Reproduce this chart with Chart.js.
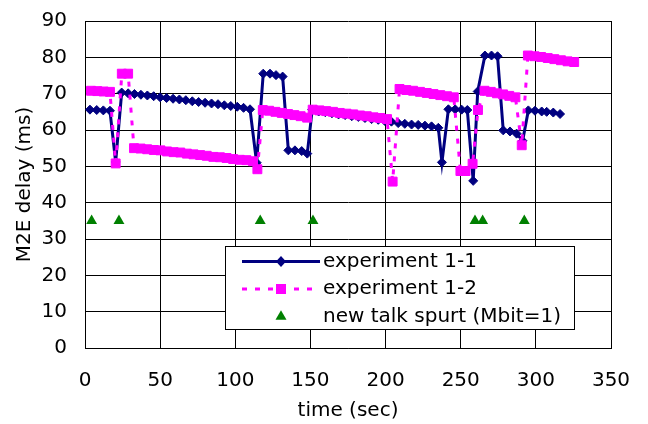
<!DOCTYPE html>
<html>
<head>
<meta charset="utf-8">
<script src="https://cdn.jsdelivr.net/npm/chart.js@4/dist/chart.umd.min.js"></script>
<style>
html,body{margin:0;padding:0;background:#fff;}
#wrap{width:648px;height:424px;position:relative;}
</style>
</head>
<body>
<div id="wrap"><canvas id="c" width="648" height="424"></canvas></div>
<script>
// ---- data ----
const seriesNames = ["experiment 1-1", "experiment 1-2", "new talk spurt (Mbit=1)"];

const exp11Time = [3.3, 7.8, 12.2, 16.6, 20.4,
  24.4, 28.7, 32.9, 37.2, 41.5, 45.7, 50.0, 54.3, 58.6, 62.8, 67.1, 71.4, 75.6, 79.9, 84.2, 88.5, 92.7, 97.0, 101.3, 105.5, 109.8,
  114.2, 118.6, 123.1, 127.1, 131.5, 135.3, 139.7, 144.2, 147.9,
  151.2, 155.5, 159.9, 164.3, 168.7, 173.1, 177.5, 181.9, 186.3, 190.7, 195.1, 199.5, 203.9,
  208.4, 212.8, 217.3, 221.7, 226.2, 230.6, 235.1, 237.5,
  241.8, 246.3, 250.6, 254.4, 258.3, 261.3, 266.1, 270.5, 274.5,
  278.3, 282.8, 287.2, 291.2, 295.0, 299.4, 303.9, 307.2, 311.6, 316.1];
const exp11Delay = [65.6, 65.5, 65.4, 65.3, 51.2,
  70.3, 70.1, 69.9, 69.7, 69.5, 69.3, 69.0, 68.8, 68.6, 68.4, 68.2, 67.9, 67.7, 67.5, 67.3, 67.1, 66.8, 66.6, 66.4, 66.1, 65.7,
  51.0, 75.5, 75.5, 75.1, 74.7, 54.4, 54.4, 54.2, 53.5,
  65.6, 65.1, 64.9, 64.6, 64.3, 64.1, 63.8, 63.6, 63.3, 63.0, 62.8, 62.5, 62.3,
  61.9, 61.7, 61.5, 61.4, 61.2, 61.0, 60.6, 51.1,
  65.7, 65.7, 65.6, 65.5, 46.0, 70.6, 80.5, 80.5, 80.3,
  59.9, 59.6, 59.0, 57.0, 65.4, 65.3, 65.1, 65.0, 64.8, 64.4];

const exp12Time = [4.0, 8.2, 12.4, 16.6, 20.4, 24.5, 28.7,
  32.6, 37.0, 41.4, 45.8, 50.2, 54.6, 59.0, 63.4, 67.8, 72.2, 76.6, 81.0, 85.4, 89.8, 94.2, 98.6, 103.0, 107.4, 111.8,
  114.7, 118.3, 122.5, 126.7, 130.9, 135.1, 139.3, 143.5, 147.8,
  151.5, 156.0, 160.5, 165.0, 169.5, 174.0, 178.5, 183.0, 187.5, 192.0, 196.5, 201.0,
  204.7, 209.3, 213.8, 218.3, 222.9, 227.4, 231.9, 236.4, 240.9, 245.4,
  249.8, 253.2, 257.9, 261.5, 265.8, 270.0, 274.1, 278.2, 282.3, 286.4,
  290.6, 294.7, 299.1, 303.5, 307.9, 312.3, 316.7, 321.1, 325.5];
const exp12Delay = [70.8, 70.7, 70.6, 70.5, 50.8, 75.5, 75.5,
  55.0, 54.9, 54.7, 54.5, 54.4, 54.1, 53.9, 53.8, 53.5, 53.3, 53.1, 52.9, 52.6, 52.5, 52.3, 52.0, 51.8, 51.7, 51.4,
  49.2, 65.5, 65.3, 65.0, 64.7, 64.4, 64.1, 63.8, 63.4,
  65.6, 65.4, 65.2, 65.0, 64.7, 64.5, 64.3, 64.0, 63.8, 63.5, 63.3, 63.0,
  45.8, 71.3, 71.0, 70.8, 70.5, 70.2, 69.9, 69.6, 69.3, 69.0,
  48.7, 48.7, 50.7, 65.5, 70.8, 70.5, 70.1, 69.8, 69.4, 69.0,
  55.8, 80.5, 80.3, 80.1, 79.8, 79.5, 79.2, 78.9, 78.7];

const spurtTime = [4.4, 22.6, 116.6, 151.7, 259.5, 264.6, 292.3];
const spurtDelay = [35, 35, 35, 35, 35, 35, 35];

const xTicks = [0, 50, 100, 150, 200, 250, 300, 350];
const yTicks = [0, 10, 20, 30, 40, 50, 60, 70, 80, 90];

function pts(xs, ys) { return xs.map((x, i) => ({x: x, y: ys[i]})); }

const NAVY = '#000080', PINK = '#FF00FF', GREEN = '#008000';
const DASH = [5, 8];

Chart.defaults.font.family = "'DejaVu Sans', sans-serif";
Chart.defaults.font.size = 20;
Chart.defaults.color = '#000';

const boxLegend = {
  id: 'boxLegend',
  afterDraw(chart) {
    const ctx = chart.ctx;
    ctx.save();
    const bx = 225.5, by = 246.5, bw = 349, bh = 83;
    ctx.fillStyle = '#fff';
    ctx.fillRect(bx, by, bw, bh);
    ctx.strokeStyle = '#000';
    ctx.lineWidth = 1;
    ctx.strokeRect(bx, by, bw, bh);
    const rows = [261.5, 289, 316.5];
    const x1 = 242, x2 = 320, mx = 281;
    // row 1
    ctx.strokeStyle = NAVY; ctx.lineWidth = 3; ctx.setLineDash([]);
    ctx.beginPath(); ctx.moveTo(x1, rows[0]); ctx.lineTo(x2, rows[0]); ctx.stroke();
    ctx.fillStyle = NAVY;
    ctx.beginPath(); ctx.moveTo(mx - 5, rows[0]); ctx.lineTo(mx, rows[0] - 5.5); ctx.lineTo(mx + 5, rows[0]); ctx.lineTo(mx, rows[0] + 5.5); ctx.closePath(); ctx.fill();
    // row 2
    ctx.strokeStyle = PINK; ctx.lineWidth = 3; ctx.setLineDash(DASH);
    ctx.beginPath(); ctx.moveTo(x1, rows[1]); ctx.lineTo(x2, rows[1]); ctx.stroke();
    ctx.setLineDash([]);
    ctx.fillStyle = PINK; ctx.fillRect(mx - 5, rows[1] - 5, 10, 10);
    // row 3
    ctx.fillStyle = GREEN;
    ctx.beginPath(); ctx.moveTo(mx, rows[2] - 6.3); ctx.lineTo(mx + 5.5, rows[2] + 3.2); ctx.lineTo(mx - 5.5, rows[2] + 3.2); ctx.closePath(); ctx.fill();
    // text
    ctx.fillStyle = '#000';
    ctx.font = "20px 'DejaVu Sans', sans-serif";
    ctx.textBaseline = 'middle';
    ctx.textAlign = 'left';
    seriesNames.forEach((n, i) => ctx.fillText(n, 323, rows[i]));
    ctx.restore();
  }
};

new Chart(document.getElementById('c'), {
  type: 'scatter',
  data: {
    datasets: [
      {
        label: seriesNames[1],
        data: pts(exp12Time, exp12Delay),
        showLine: true,
        borderColor: PINK,
        backgroundColor: PINK,
        borderWidth: 3,
        borderDash: DASH,
        pointStyle: 'rect',
        pointRadius: 6.3,
        pointBorderWidth: 1,
        pointBorderColor: PINK,
        pointBackgroundColor: PINK,
        order: 1
      },
      {
        label: seriesNames[0],
        data: pts(exp11Time, exp11Delay),
        showLine: true,
        borderColor: NAVY,
        backgroundColor: NAVY,
        borderWidth: 3,
        pointStyle: 'rectRot',
        pointRadius: 4.5,
        pointBorderWidth: 1,
        pointBorderColor: NAVY,
        pointBackgroundColor: NAVY,
        order: 2
      },
      {
        label: seriesNames[2],
        data: pts(spurtTime, spurtDelay),
        showLine: false,
        pointStyle: 'triangle',
        pointRadius: 6.3,
        pointBorderWidth: 0,
        pointBackgroundColor: GREEN,
        backgroundColor: GREEN,
        borderColor: GREEN,
        order: 0
      }
    ]
  },
  options: {
    responsive: false,
    animation: false,
    layout: { padding: { left: 0, top: 21, right: 37, bottom: 0 } },
    plugins: { legend: { display: false }, tooltip: { enabled: false } },
    scales: {
      x: {
        type: 'linear',
        min: xTicks[0], max: xTicks[xTicks.length - 1],
        afterBuildTicks: s => { s.ticks = xTicks.map(v => ({value: v})); },
        afterFit: s => { s.height = 76; s.paddingLeft = 0; s.paddingRight = 0; },
        grid: { color: '#000', lineWidth: 1, drawTicks: false },
        border: { color: '#000', width: 1 },
        ticks: { padding: 21, color: '#000', font: { size: 20 } },
        title: { display: true, text: 'time (sec)', color: '#000', font: { size: 20 }, padding: { top: 0, bottom: 1 } }
      },
      y: {
        type: 'linear',
        min: yTicks[0], max: yTicks[yTicks.length - 1],
        afterBuildTicks: s => { s.ticks = yTicks.map(v => ({value: v})); },
        afterFit: s => { s.width = 85; s.paddingTop = 0; s.paddingBottom = 0; },
        grid: { color: '#000', lineWidth: 1, drawTicks: false },
        border: { color: '#000', width: 1 },
        ticks: { padding: 18, color: '#000', font: { size: 20 } },
        title: { display: true, text: 'M2E delay (ms)', color: '#000', font: { size: 20 }, padding: { top: 13, bottom: 0 } }
      }
    }
  },
  plugins: [boxLegend]
});
</script>
</body>
</html>
